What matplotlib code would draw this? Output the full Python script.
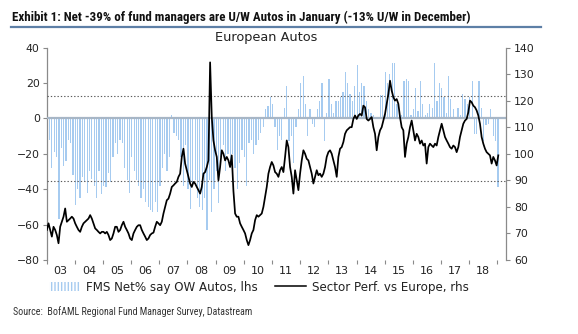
import numpy as np
import pandas as pd
import matplotlib
matplotlib.use("Agg")
import matplotlib.pyplot as plt
import matplotlib.dates as mdates
from matplotlib import font_manager
from matplotlib.patches import Patch
from matplotlib.lines import Line2D

# ---------------- data ----------------
# FMS net % of managers overweight European autos, monthly Jan-2003 .. Jan-2019
fms_2003 = [-14, -12, -28, -19, -22, -57, -17, -27, -24, -12, -14, -32]
fms_2004 = [-49, -40, -45, -33, -36, -42, -30, -34, -38, -45, -30, -43]
fms_2005 = [-38, -39, -31, -36, -22, -14, -20, -12, -14, -28, -35, -42]
fms_2006 = [-22, -30, -35, -38, -45, -40, -47, -50, -52, -53, -47, -53]
fms_2007 = [-38, -28, -20, -30, -22, 2, -8, -10, -12, -22, -38, -15]
fms_2008 = [-40, -51, -38, -35, -45, -50, -52, -45, -63, -35, -53, -40]
fms_2009 = [-30, -48, -22, -15, -30, -20, -25, -20, -28, -40, -25, -18]
fms_2010 = [-22, -38, -14, -12, -20, -15, -12, -8, -5, 5, 7, 12]
fms_2011 = [8, -5, -18, -10, -12, 6, 18, -13, -10, -25, -5, 5]
fms_2012 = [20, 24, 8, -10, 5, -3, -5, 5, 10, 20, -13, 3]
fms_2013 = [22, 8, 3, 10, 10, 12, 15, 26, 20, 14, 10, 18]
fms_2014 = [30, 15, 20, 18, 10, 5, 3, 2, 1, 1, 13, 13]
fms_2015 = [26, 20, 25, 31, 31, 8, 5, 2, 21, 22, 21, 2]
fms_2016 = [5, 17, 4, 21, 8, 2, 3, 8, 6, 31, 10, 20]
fms_2017 = [17, 12, 3, 24, 11, 5, 0, 6, 2, 14, 11, 8]
fms_2018 = [12, 21, -9, -9, 21, 6, -13, -4, -3, 5, -10, -13]
fms_2019 = [-39]

fms_net = (fms_2003 + fms_2004 + fms_2005 + fms_2006 + fms_2007 + fms_2008
           + fms_2009 + fms_2010 + fms_2011 + fms_2012 + fms_2013 + fms_2014
           + fms_2015 + fms_2016 + fms_2017 + fms_2018 + fms_2019)
fms_dates = pd.date_range("2003-01-01", periods=len(fms_net), freq="MS")

# reference levels drawn as dotted lines (lhs)
fms_upper_band = 12.5
fms_lower_band = -35.5

# sector relative performance vs Europe (rhs), ~3-weekly observations
perf_2003_2008 = [
    71.3, 73.8, 71.3, 68.8, 72.5, 71.3, 69.4, 66.3, 72.5, 74.4,
    76.3, 79.4, 74.4, 75.0, 75.6, 76.3, 75.6, 73.8, 72.5, 71.3,
    70.6, 72.5, 73.8, 74.4, 75.0, 75.6, 76.9, 75.6, 73.8, 71.9,
    71.3, 70.6, 70.0, 70.6, 70.6, 70.0, 70.6, 69.4, 67.5, 68.1,
    70.0, 72.5, 72.5, 70.6, 71.3, 73.1, 74.4, 72.5, 71.3, 70.0,
    68.1, 67.5, 70.0, 71.3, 72.5, 73.1, 73.1, 71.3, 70.0, 68.8,
    67.5, 68.1, 69.4, 70.0, 70.3, 72.5, 74.4, 73.8, 73.1, 74.4,
    77.5, 80.0, 82.5, 83.1, 85.0, 87.5, 88.1, 88.8, 89.4, 91.3,
    92.5, 98.8, 101.9, 96.3, 93.8, 91.3, 88.8, 87.5, 89.4, 88.8,
    87.5, 86.3, 85.0,
]
perf_2008_2011 = [
    87.5, 92.5, 93.1, 95.0, 97.5, 134.4, 113.8, 105.0, 101.3, 98.8,
    90.0, 95.0, 101.3, 100.0, 97.5, 98.8, 97.5, 95.0, 99.4, 86.0,
    77.5, 76.3, 76.3, 73.8, 72.5, 71.3, 70.0, 67.5, 65.6, 67.5,
    70.0, 71.3, 75.0, 76.9, 76.3, 76.9, 77.5, 80.0, 83.8, 87.5,
    92.5, 95.0, 96.9, 95.6, 93.1, 92.5, 91.3, 93.8, 95.0, 93.1,
    98.8, 105.0, 102.5, 95.0,
]
perf_2011_2014 = [
    91.3, 85.0, 93.8, 90.0, 86.3, 92.5, 97.5, 101.3, 100.0, 98.1,
    97.5, 95.0, 92.5, 88.8, 91.3, 93.8, 91.9, 92.5, 91.3, 92.5,
    95.0, 98.8, 100.6, 101.3, 100.0, 97.5, 95.0, 91.3, 98.8, 101.9,
    102.5, 104.4, 107.5, 108.8, 109.4, 110.0, 110.0, 113.1, 114.4, 113.1,
    114.4, 115.0, 114.4, 118.1, 117.5, 113.1, 112.5, 113.1, 113.8, 110.0,
    107.5, 101.3, 106.3, 108.8,
]
perf_2014_2019 = [
    110.0, 112.5, 115.0, 118.8, 122.5, 127.5, 123.8, 121.3, 120.0, 120.6,
    118.8, 113.8, 110.0, 108.8, 98.8, 103.8, 106.3, 110.0, 112.5, 108.8,
    105.0, 107.5, 106.3, 103.8, 105.0, 103.1, 103.8, 96.3, 102.5, 103.8,
    103.1, 102.5, 103.8, 103.1, 106.3, 108.8, 111.3, 108.8, 106.3, 105.0,
    103.8, 102.5, 101.9, 103.1, 102.5, 100.6, 102.5, 106.3, 108.8, 111.3,
    112.5, 113.1, 115.6, 120.0, 119.4, 118.1, 117.5, 116.3, 114.4, 111.3,
    106.3, 103.8, 101.9, 100.6, 100.0, 99.4, 96.3, 98.8, 97.5, 95.6,
    99.4,
]
sector_perf = perf_2003_2008 + perf_2008_2011 + perf_2011_2014 + perf_2014_2019
perf_dates = pd.date_range("2003-01-03", "2019-01-14", periods=len(sector_perf))

lhs_ticks = [-80, -60, -40, -20, 0, 20, 40]
rhs_ticks = [60, 70, 80, 90, 100, 110, 120, 130, 140]

title_text = "Exhibit 1: Net -39% of fund managers are U/W Autos in January (-13% U/W in December)"
chart_title = "European Autos"
bar_label = "FMS Net% say OW Autos, lhs"
line_label = "Sector Perf. vs Europe, rhs"
source_text = "Source:  BofAML Regional Fund Manager Survey, Datastream"

# ---------------- styling ----------------
W, H = 578, 334
BAR_BLUE = "#a6cbf0"
ZERO_COL = "#a7b6c6"
SPINE_COL = "#8a8a8a"
TXT = "#222222"

installed = {f.name for f in font_manager.fontManager.ttflist}
narrow = None
for cand in ["Liberation Sans Narrow", "DejaVu Sans Condensed", "Roboto Condensed"]:
    if cand in installed:
        narrow = cand
        break

plt.rcParams["font.family"] = ["DejaVu Sans"]
plt.rcParams["hatch.linewidth"] = 1.0

fig = plt.figure(figsize=(W / 100, H / 100), dpi=100)

def px_box(x0, y0, x1, y1):
    return [x0 / W, 1 - y1 / H, (x1 - x0) / W, (y1 - y0) / H]

ax = fig.add_axes(px_box(46.7, 47.5, 505.7, 260))
ax2 = ax.twinx()

# bars (lhs)
ax.bar(fms_dates, fms_net, width=16, align="edge", color=BAR_BLUE,
       linewidth=0, zorder=2)
ax.axhline(0, color=ZERO_COL, lw=1.6, zorder=3)
for lvl in (fms_upper_band, fms_lower_band):
    ax.axhline(lvl, color="#5a5a5a", lw=0.8, ls=(0, (1.2, 1.8)), zorder=3)

# relative performance line (rhs)
ax2.plot(perf_dates, sector_perf, color="black", lw=1.25, zorder=4)

x_left = pd.Timestamp("2003-01-01")
x_right = pd.Timestamp("2019-04-20")
ax.set_xlim(x_left, x_right)
ax.set_ylim(-80, 40)
ax2.set_ylim(60, 140)
ax.set_yticks(lhs_ticks)
ax2.set_yticks(rhs_ticks)

ax.xaxis.set_major_locator(mdates.YearLocator())
ax.xaxis.set_major_formatter(matplotlib.ticker.NullFormatter())
ax.xaxis.set_minor_locator(mdates.MonthLocator(bymonth=7, bymonthday=1))
ax.xaxis.set_minor_formatter(mdates.DateFormatter("%y"))

for a in (ax, ax2):
    a.spines["top"].set_visible(False)
    a.spines["bottom"].set_visible(False)
ax.spines["right"].set_visible(False)
ax2.spines["left"].set_visible(False)
ax.spines["left"].set_color(SPINE_COL)
ax2.spines["right"].set_color(SPINE_COL)
ax.spines["left"].set_linewidth(0.9)
ax2.spines["right"].set_linewidth(0.9)

ax.tick_params(axis="y", direction="out", length=3, width=0.8, color=SPINE_COL,
               labelsize=7.8, labelcolor=TXT, pad=2)
ax2.tick_params(axis="y", direction="out", length=3, width=0.8, color=SPINE_COL,
                labelsize=7.8, labelcolor=TXT, pad=3)
ax.tick_params(axis="x", which="major", direction="out", length=3, width=0.8,
               color=SPINE_COL)
ax.tick_params(axis="x", which="minor", length=0, labelsize=8, labelcolor=TXT, pad=4)

# headline and underline
title_kw = dict(fontweight="bold", color="#111111", va="center", ha="left")
if narrow:
    title_kw["family"] = narrow
else:
    title_kw["fontstretch"] = "condensed"
t = fig.text(12 / W, 1 - 17 / H, title_text, fontsize=11, **title_kw)
fig.canvas.draw()
rend = fig.canvas.get_renderer()
w = t.get_window_extent(rend).width
t.set_fontsize(11 * 457 / w)
fig.add_artist(Line2D([11 / W, 541 / W], [1 - 27 / H, 1 - 27 / H],
                      transform=fig.transFigure, color="#5d7fa6", lw=1.6))

fig.text(266 / W, 1 - 38 / H, chart_title, ha="center", va="center",
         fontsize=9.3, color=TXT)

# legend
handles = [Patch(facecolor="white", edgecolor=BAR_BLUE, hatch="|||||", lw=0),
           Line2D([], [], color="black", lw=1.1)]
fig.legend(handles, [bar_label, line_label], loc="center",
           bbox_to_anchor=(259 / W, 1 - 287 / H), ncol=2, frameon=False,
           fontsize=8.6, handlelength=2.6, handleheight=0.75, handletextpad=0.5,
           columnspacing=1.5, labelcolor=TXT)

src_kw = dict(color="#333333", va="center", ha="left")
if narrow:
    src_kw["family"] = narrow
else:
    src_kw["fontstretch"] = "condensed"
s = fig.text(13 / W, 1 - 312 / H, source_text, fontsize=8, **src_kw)
fig.canvas.draw()
ws = s.get_window_extent(fig.canvas.get_renderer()).width
s.set_fontsize(8 * 242 / ws)

fig.savefig("out.png", dpi=100)
